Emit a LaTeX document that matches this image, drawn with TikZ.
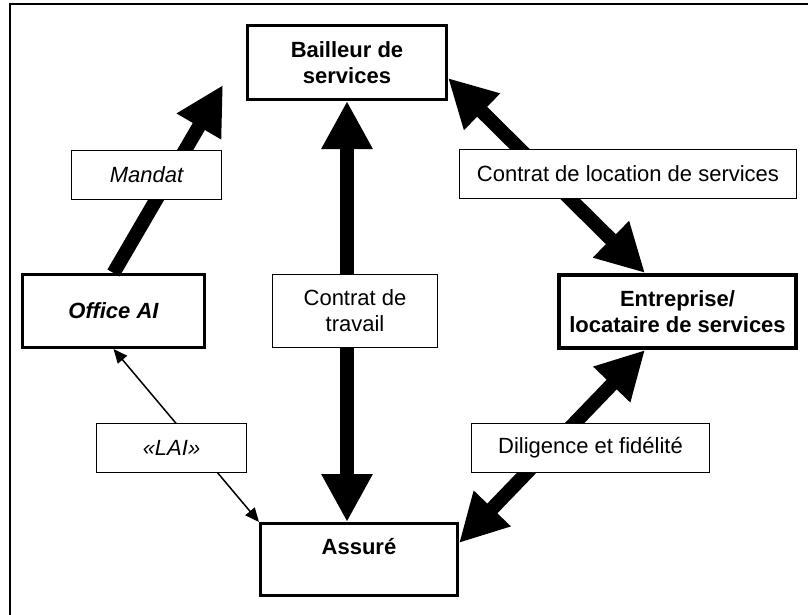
\documentclass[tikz,border=0pt]{standalone}
\usepackage{fontspec}
\setmainfont{Liberation Sans}
\usetikzlibrary{arrows.meta}

\begin{document}
\begin{tikzpicture}[x=1pt, y=-1pt,
    every node/.style={font=\fontsize{22}{26}\selectfont, align=center, inner sep=0pt},
    partie/.style={draw, line width=3pt, fill=white, font=\fontsize{22}{26}\selectfont\bfseries},
    etiquette/.style={draw, line width=1.5pt, fill=white, minimum height=49pt},
    grosse/.style={line width=14pt, -{Triangle[length=48pt, width=48pt]}},
    fine/.style={line width=1.5pt, {Triangle[length=14pt, width=12pt]}-{Triangle[length=14pt, width=12pt]}}]
    \useasboundingbox (0, 0) rectangle (808, 615);

    % 枠
    \draw[line width=2pt] (10, 615) -- (10, 4) -- (808, 4);

    % 箱を置く
    \node[partie, minimum width=199pt, minimum height=74pt] (bailleur) at (347, 62.5) {Bailleur de\\services};
    \node[partie, minimum width=182pt, minimum height=73pt] (office) at (113.5, 311) {\itshape Office AI};
    \node[partie, line width=4pt, minimum width=237pt, minimum height=73pt] (entreprise) at (677.5, 311.5) {Entreprise/\\locataire de services};
    \node[partie, minimum width=197pt, minimum height=72pt] (assure) at (359, 559.5) {Assuré\\\mbox{}};
    \coordinate (mandat pointe) at (223, 85);

    % 線を引く
    \draw[grosse] (office.north) -- (mandat pointe);
    \draw[grosse, {Triangle[length=48pt, width=48pt]}-{Triangle[length=48pt, width=48pt]}] (bailleur.south) -- (bailleur.south |- assure.north);
    \draw[grosse, {Triangle[length=48pt, width=48pt]}-{Triangle[length=48pt, width=48pt]}] ([yshift=-15.5pt]bailleur.east) -- ([xshift=-32.5pt]entreprise.north);
    \draw[grosse, {Triangle[length=48pt, width=48pt]}-{Triangle[length=48pt, width=48pt]}] ([xshift=-32.5pt]entreprise.south) -- ([yshift=16.5pt]assure.east);
    \draw[fine] (assure.north west) -- (office.south);

    % 値を入れる
    \node[etiquette, minimum width=150pt] (mandat) at (146.5, 175) {\itshape Mandat};
    \node[etiquette, minimum width=165pt, minimum height=73pt] (travail) at (355, 311) {Contrat de\\travail};
    \node[etiquette, minimum width=337pt] (location) at (628, 174) {Contrat de location de services};
    \node[etiquette, minimum width=150pt] (lai) at (171.5, 448) {\itshape «LAI»};
    \node[etiquette, minimum width=238pt] (diligence) at (590.5, 448) {Diligence et fidélité};
  \end{tikzpicture}
\end{document}
